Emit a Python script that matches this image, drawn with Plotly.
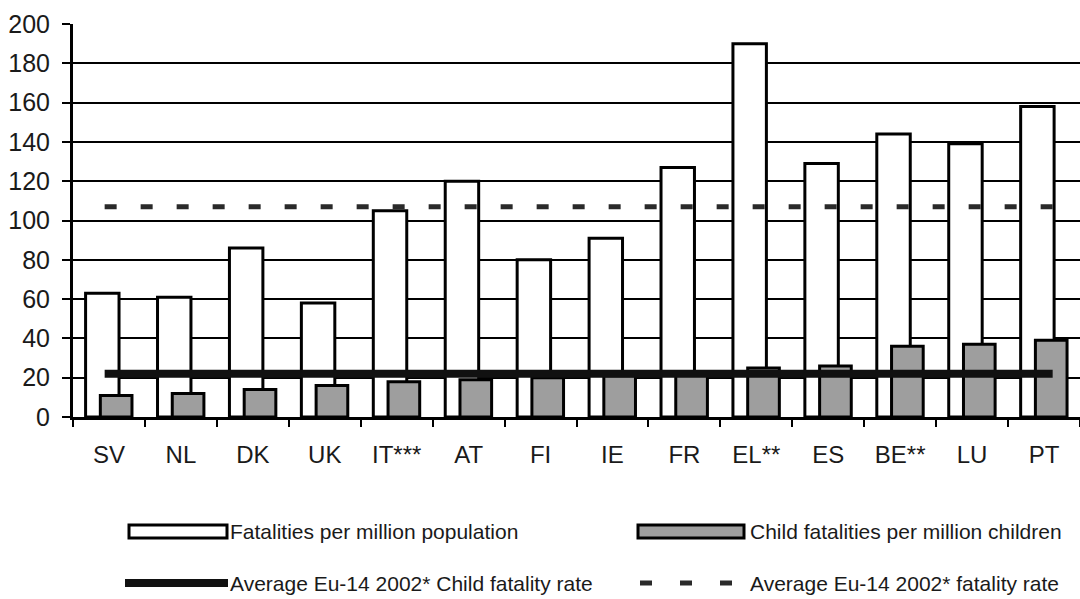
import plotly.graph_objects as go

# Road fatality rates by country
countries = ["SV", "NL", "DK", "UK", "IT***", "AT", "FI", "IE", "FR", "EL**", "ES", "BE**", "LU", "PT"]
fatalities_per_million = [63, 61, 86, 58, 105, 120, 80, 91, 127, 190, 129, 144, 139, 158]
child_fatalities_per_million = [11, 12, 14, 16, 18, 19, 20, 21, 22, 25, 26, 36, 37, 39]
avg_eu14_fatality_rate = 107
avg_eu14_child_fatality_rate = 22
y_tick_values = [0, 20, 40, 60, 80, 100, 120, 140, 160, 180, 200]

legend_labels = [
    "Fatalities per million population",
    "Child fatalities per million children",
    "Average Eu-14 2002* Child fatality rate",
    "Average Eu-14 2002* fatality rate",
]

FONT = "Liberation Sans, Arial, sans-serif"
TEXT = "#1a1a1a"
GREY = "#9e9e9e"

W, H = 1080, 599
ML, MR, MT, MB = 73, 0, 24, 182

idx = list(range(len(countries)))
# the average lines run slightly past the first and last category centres
line_span = [idx[0] - 0.06, idx[-1] + 0.12]

fig = go.Figure()

fig.add_trace(go.Bar(
    x=idx, y=fatalities_per_million, name=legend_labels[0],
    offset=-0.325, width=0.465,
    marker=dict(color="white", line=dict(color="black", width=3)),
))
fig.add_trace(go.Bar(
    x=idx, y=child_fatalities_per_million, name=legend_labels[1],
    offset=-0.12, width=0.44,
    marker=dict(color=GREY, line=dict(color="black", width=3)),
))
fig.add_trace(go.Scatter(
    x=line_span, y=[avg_eu14_child_fatality_rate] * 2, mode="lines",
    name=legend_labels[2], line=dict(color="#111111", width=8),
))
fig.add_trace(go.Scatter(
    x=line_span, y=[avg_eu14_fatality_rate] * 2, mode="lines",
    name=legend_labels[3], line=dict(color="#2a2a2a", width=5, dash="12px,24px"),
))

fig.update_layout(
    width=W, height=H,
    margin=dict(l=ML, r=MR, t=MT, b=MB),
    paper_bgcolor="white", plot_bgcolor="white",
    barmode="overlay", showlegend=False,
    font=dict(family=FONT, color=TEXT),
)

fig.update_xaxes(
    range=[-0.5, len(countries) - 0.5],
    tickmode="array", tickvals=idx, ticktext=countries,
    ticks="", showgrid=False, zeroline=False,
    showline=True, linecolor="black", linewidth=3,
    tickfont=dict(size=24, family=FONT, color=TEXT),
    ticklabelstandoff=14,
    minor=dict(tickmode="array", tickvals=[i - 0.5 for i in range(len(countries) + 1)],
               ticks="outside", ticklen=7, tickwidth=2, tickcolor="black", showgrid=False),
)
fig.update_yaxes(
    range=[0, 200], tickmode="array", tickvals=y_tick_values,
    ticks="outside", ticklen=8, tickwidth=2, tickcolor="black",
    showgrid=True, gridcolor="black", gridwidth=2, zeroline=False,
    showline=True, linecolor="black", linewidth=3,
    tickfont=dict(size=25, family=FONT, color=TEXT),
    ticklabelstandoff=7,
)

# Legend drawn beneath the plot, positioned in pixels
plot_w = W - ML - MR
plot_h = H - MT - MB


def px(x):
    return (x - ML) / plot_w


def py(y):
    return (H - MB - y) / plot_h


shapes = [
    dict(type="rect", xref="paper", yref="paper", x0=px(129), x1=px(227), y0=py(538), y1=py(525),
         fillcolor="white", line=dict(color="black", width=3)),
    dict(type="rect", xref="paper", yref="paper", x0=px(638), x1=px(744), y0=py(538), y1=py(525),
         fillcolor=GREY, line=dict(color="black", width=3)),
    dict(type="line", xref="paper", yref="paper", x0=px(125), x1=px(228), y0=py(583), y1=py(583),
         line=dict(color="#111111", width=8)),
    dict(type="line", xref="paper", yref="paper", x0=px(640), x1=px(734), y0=py(583), y1=py(583),
         line=dict(color="#2a2a2a", width=5, dash="12px,28px")),
]
annotations = [
    dict(text=legend_labels[0], x=px(228), y=py(531)),
    dict(text=legend_labels[1], x=px(748), y=py(531)),
    dict(text=legend_labels[2], x=px(228), y=py(583)),
    dict(text=legend_labels[3], x=px(748), y=py(583)),
]
for a in annotations:
    a.update(xref="paper", yref="paper", xanchor="left", yanchor="middle", showarrow=False,
             font=dict(size=21, family=FONT, color=TEXT))

fig.update_layout(shapes=shapes, annotations=annotations)

fig.write_html("out.html")
